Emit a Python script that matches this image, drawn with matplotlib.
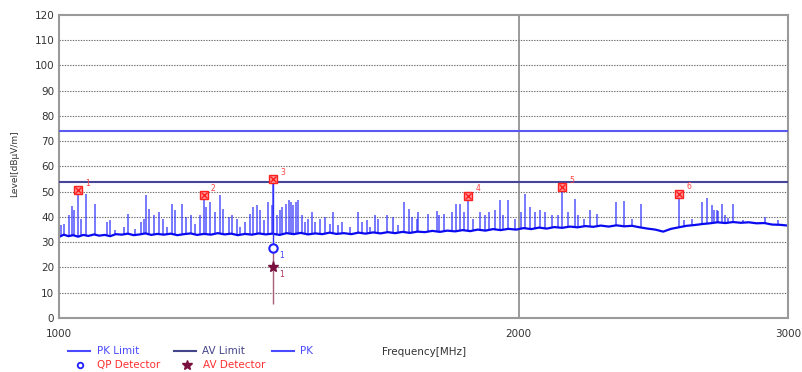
import numpy as np
import matplotlib
matplotlib.use("Agg")
from matplotlib import pyplot as plt
from matplotlib.lines import Line2D

# noise floor of the PK trace (MHz, dBuV/m)
base_freq = [1000, 1008, 1015, 1022, 1030, 1038, 1046, 1055, 1063, 1072, 1081, 1090,
             1100, 1110, 1120, 1130, 1140, 1150, 1160, 1172, 1184, 1196, 1208, 1220,
             1232, 1245, 1258, 1271, 1284, 1297, 1310, 1324, 1338, 1352, 1366, 1380,
             1395, 1410, 1425, 1440, 1456, 1472, 1488, 1504, 1520, 1537, 1554, 1571,
             1588, 1606, 1624, 1642, 1660, 1679, 1698, 1717, 1736, 1756, 1776, 1796,
             1817, 1838, 1859, 1880, 1902, 1924, 1946, 1969, 1992, 2015, 2038, 2062,
             2086, 2110, 2135, 2160, 2185, 2211, 2237, 2263, 2290, 2317, 2344, 2372,
             2400, 2428, 2457, 2486, 2515, 2545, 2575, 2605, 2636, 2667, 2698, 2730,
             2762, 2795, 2828, 2861, 2895, 2929, 2964, 3000]
base_level = [32.0, 33.0, 32.4, 32.8, 32.2, 32.9, 32.5, 33.1, 32.6, 32.9, 32.4, 33.2,
              33.0, 33.4, 32.8, 33.1, 33.5, 32.9, 33.3, 33.0, 33.4, 32.8, 33.2, 33.5,
              32.9, 33.3, 33.0, 33.6, 33.1, 33.4, 32.8, 33.3, 33.0, 33.5, 33.1, 33.4,
              32.9, 33.6, 33.2, 33.7, 33.1, 33.5, 33.2, 33.8, 33.3, 33.6, 33.2, 33.8,
              33.4, 33.9, 33.5, 34.0, 33.6, 34.1, 33.7, 34.2, 34.0, 34.5, 34.1, 34.6,
              34.3, 34.8, 34.4, 35.0, 34.6, 35.2, 34.8, 35.3, 35.0, 35.6, 35.2, 35.8,
              35.4, 36.0, 35.7, 36.2, 35.9, 36.4, 36.1, 36.6, 36.2, 36.7, 36.3, 36.5,
              35.9, 35.4, 35.0, 34.2, 35.3, 35.9, 36.5, 36.8, 37.2, 37.5, 37.9, 37.6,
              38.0, 37.7, 37.9, 37.5, 37.6, 37.0, 36.9, 36.6]

# emission spikes on the PK trace
spike_freq = [1004, 1009, 1016, 1020, 1024, 1030, 1035, 1043, 1056, 1076, 1080, 1089,
              1103, 1110, 1122, 1133, 1137, 1141, 1146, 1154, 1163, 1170, 1177, 1186,
              1191, 1204, 1211, 1221, 1229, 1238, 1244, 1249, 1257, 1265, 1276, 1282,
              1292, 1298, 1308, 1315, 1325, 1335, 1341, 1348, 1355, 1362, 1371, 1379,
              1382, 1389, 1395, 1400, 1408, 1414, 1420, 1424, 1430, 1435, 1443, 1450,
              1457, 1464, 1472, 1483, 1493, 1504, 1513, 1524, 1532, 1551, 1571, 1579,
              1591, 1599, 1611, 1619, 1640, 1656, 1668, 1683, 1694, 1703, 1715, 1719,
              1744, 1768, 1774, 1788, 1808, 1819, 1831, 1843, 1854, 1868, 1887, 1901,
              1911, 1930, 1943, 1954, 1969, 1989, 2007, 2019, 2034, 2050, 2065, 2081,
              2102, 2121, 2136, 2155, 2177, 2188, 2208, 2227, 2249, 2316, 2344, 2371,
              2403, 2547, 2566, 2595, 2635, 2654, 2675, 2685, 2695, 2701, 2715, 2729,
              2742, 2763, 2805, 2898, 2957]
spike_level = [36.7, 37.3, 40.7, 44.4, 42.7, 50.7, 39.3, 49.3, 45.0, 38.0, 38.7, 34.7,
               36.0, 41.3, 35.3, 38.0, 39.3, 48.7, 43.3, 40.7, 42.0, 39.3, 36.0, 45.3,
               42.7, 45.3, 40.0, 40.7, 37.3, 40.7, 48.7, 44.0, 46.0, 42.0, 48.7, 43.3,
               40.0, 40.7, 39.3, 36.0, 38.0, 41.3, 44.0, 44.7, 42.7, 38.7, 46.0, 44.7,
               55.0, 40.7, 42.7, 44.0, 45.3, 46.7, 46.0, 44.7, 46.0, 46.7, 40.7, 38.0,
               39.3, 42.0, 38.0, 39.3, 40.0, 37.3, 42.0, 36.7, 38.0, 36.0, 42.0, 38.0,
               38.7, 36.0, 40.7, 39.3, 40.7, 40.0, 36.7, 46.0, 43.3, 40.0, 39.3, 42.0,
               41.3, 42.3, 40.7, 41.3, 42.0, 45.0, 45.3, 42.0, 48.5, 39.3, 42.0, 40.7,
               42.0, 42.7, 46.7, 40.7, 46.7, 39.3, 42.0, 49.3, 44.0, 42.0, 42.7, 42.0,
               40.7, 40.7, 52.0, 42.0, 47.3, 40.7, 39.3, 42.7, 41.3, 46.0, 46.3, 39.3,
               45.3, 49.3, 38.7, 39.3, 46.0, 47.6, 44.7, 42.7, 42.7, 42.3, 45.0, 40.7,
               39.6, 45.0, 38.7, 40.0, 38.7]

# final measurement markers
peak_freq = [1030, 1244, 1382, 1854, 2136, 2547]
peak_level = [50.7, 48.7, 55.0, 48.5, 52.0, 49.3]
peak_labels = ["1", "2", "3", "4", "5", "6"]
qp_freq, qp_level = 1382, 27.8
av_freq, av_level = 1382, 20.2
av_line_low = 5.5

pk_limit = 74
av_limit = 54

fig = plt.figure(figsize=(8.03, 3.72), dpi=100)
ax = fig.add_axes([0.0729, 0.1452, 0.9084, 0.8145])

ax.set_xscale("log")
ax.set_xlim(1000, 3000)
ax.set_ylim(0, 120)

for y in range(10, 120, 10):
    ax.axhline(y, color="#6a6a6a", lw=0.8, ls=(0, (1.2, 1.2)), zorder=1)
ax.axvline(2000, color="#8a8a8a", lw=1.2, zorder=1)

ax.axhline(pk_limit, color="#5a5af0", lw=1.5, zorder=3)
ax.axhline(av_limit, color="#45459a", lw=1.5, zorder=3)

bottoms = np.interp(spike_freq, base_freq, base_level)
ax.vlines(spike_freq, bottoms, spike_level, color="#2a2aff", lw=1.1, alpha=0.8, zorder=2)
ax.plot(base_freq, base_level, color="#0a0af0", lw=1.6, zorder=2)

# detector values under marker 3
ax.vlines(qp_freq, qp_level, peak_level[2], color="#3030ff", lw=1.0, zorder=2)
ax.vlines(av_freq, av_line_low, qp_level, color="#a8607a", lw=1.0, zorder=2)

ax.plot(peak_freq, peak_level, ls="none", marker="s", ms=6, mfc="#ff9a9a",
        mec="#ff2020", mew=1.0, zorder=5)
ax.plot(peak_freq, peak_level, ls="none", marker="x", ms=4, color="#ff2020",
        mew=1.0, zorder=6)
for f, lv, t in zip(peak_freq, peak_level, peak_labels):
    ax.annotate(t, (f, lv), xytext=(5, 3), textcoords="offset points",
                fontsize=5.5, color="#ff4040")

ax.plot([qp_freq], [qp_level], ls="none", marker="o", ms=6, mfc="white",
        mec="#2020ff", mew=1.5, zorder=5)
ax.annotate("1", (qp_freq, qp_level), xytext=(4, -7), textcoords="offset points",
            fontsize=5.5, color="#4040ff")
ax.plot([av_freq], [av_level], ls="none", marker="*", ms=8, color="#7a1040", zorder=5)
ax.annotate("1", (av_freq, av_level), xytext=(4, -7), textcoords="offset points",
            fontsize=5.5, color="#b03050")

ax.set_yticks(range(0, 121, 10))
ax.set_xticks([1000, 2000, 3000])
ax.set_xticklabels(["1000", "2000", "3000"])
ax.xaxis.set_minor_locator(matplotlib.ticker.NullLocator())
ax.tick_params(axis="both", length=0, labelsize=7.5, colors="#333333")
ax.tick_params(axis="x", pad=8)
ax.tick_params(axis="y", pad=3)
for s in ax.spines.values():
    s.set_color("#9a9a9a")
    s.set_linewidth(1.5)

fig.text(0.018, 0.56, "Level[dBμV/m]", rotation=90, fontsize=6.5, color="#333333",
         ha="center", va="center")
fig.text(0.476, 0.055, "Frequency[MHz]", fontsize=7.5, color="#333333",
         ha="left", va="center")

# legend
ly1 = 1 - 351 / 372
ly2 = 1 - 365 / 372
fig.add_artist(Line2D([68 / 803, 90 / 803], [ly1, ly1], color="#4a4aff", lw=1.5))
fig.text(97 / 803, ly1, "PK Limit", fontsize=7.5, color="#4a4aff", va="center")
fig.add_artist(Line2D([174 / 803, 196 / 803], [ly1, ly1], color="#45458a", lw=1.5))
fig.text(202 / 803, ly1, "AV Limit", fontsize=7.5, color="#45458a", va="center")
fig.add_artist(Line2D([272 / 803, 294 / 803], [ly1, ly1], color="#4a4aff", lw=1.5))
fig.text(300 / 803, ly1, "PK", fontsize=7.5, color="#4a4aff", va="center")
fig.add_artist(Line2D([80 / 803], [ly2], ls="none", marker="o", ms=4, mfc="white",
                      mec="#2020ff", mew=1.3))
fig.text(97 / 803, ly2, "QP Detector", fontsize=7.5, color="#ff3030", va="center")
fig.add_artist(Line2D([187 / 803], [ly2], ls="none", marker="*", ms=7, color="#7a1040"))
fig.text(203 / 803, ly2, "AV Detector", fontsize=7.5, color="#ff3030", va="center")

fig.savefig("out.png", dpi=100)
